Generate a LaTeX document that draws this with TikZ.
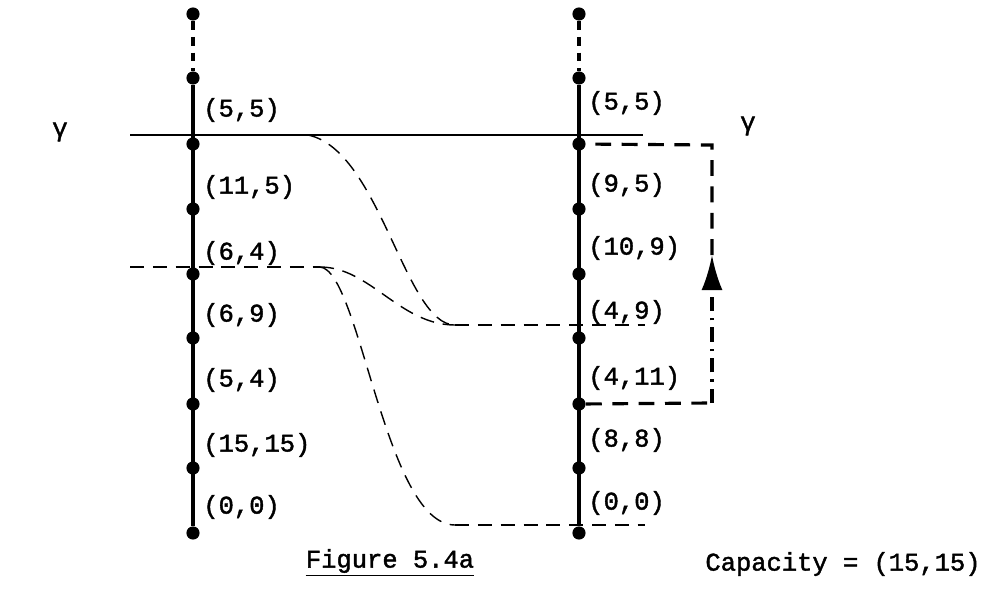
\documentclass[tikz,border=0pt]{standalone}
\usepackage{fontspec}
\setmonofont{Liberation Mono}[AutoFakeBold=1.6]
\usetikzlibrary{arrows.meta, positioning, calc}

\begin{document}
\begin{tikzpicture}[
    x=0.02cm, y=-0.02cm,
    >=Latex,
    % Styles for the two columns and the shifts between them
    vdot/.style={circle, fill=black, inner sep=0pt, minimum size=7.5pt},
    column/.style={draw=black, line width=1.8pt},
    cutline/.style={draw=black, line width=1pt},
    shiftline/.style={draw=black, line width=0.8pt, dash pattern=on 8pt off 5pt},
    route/.style={draw=black, line width=1.8pt, dash pattern=on 9pt off 6pt},
    lbl/.style={font=\ttfamily\bfseries\fontsize{14.5}{17}\selectfont, anchor=west, inner sep=0pt}
]
    \useasboundingbox (0,0) rectangle (992,589);

    % 1. The two columns of dots
    \foreach \y [count=\i from 0] in {14,78,144,209,274,338,404,468,533} {
        \node[vdot] (L\i) at (193,\y) {};
        \node[vdot] (R\i) at (579,\y) {};
    }
    \draw[column, dash pattern=on 5pt off 4pt] (L0) -- (L1);
    \draw[column, dash pattern=on 5pt off 4pt] (R0) -- (R1);
    \draw[column] (L1) -- (L8);
    \draw[column] (R1) -- (R8);

    % 2. Labels beside the columns
    \foreach \y/\t [count=\i] in {110/{(5,5)},187/{(11,5)},253/{(6,4)},315/{(6,9)},380/{(5,4)},445/{(15,15)},507/{(0,0)}} {
        \node[lbl] (la\i) at (203,\y) {\t};
    }
    \foreach \y/\t [count=\i] in {103/{(5,5)},185/{(9,5)},248/{(10,9)},312/{(4,9)},378/{(4,11)},440/{(8,8)},503/{(0,0)}} {
        \node[lbl] (ra\i) at (588,\y) {\t};
    }
    \node[lbl, anchor=center] (gl) at (60,132) {γ};
    \node[lbl, anchor=center] (gr) at (748,126) {γ};

    % 3. The cut lines
    \coordinate (cutL) at (130,135);
    \coordinate (cutR) at (643,135);
    \draw[cutline] (cutL) -- (cutR);
    \coordinate (dashL) at (130,267);
    \coordinate (split) at (320,267);
    \draw[shiftline] (dashL) -- (split);

    % 4. The shifted cuts (S-curves)
    \coordinate (bendA) at (308,135);
    \coordinate (midE) at (455,325);
    \coordinate (midR) at (645,325);
    \coordinate (lowE) at (455,525);
    \coordinate (lowR) at (645,525);
    \draw[shiftline] (bendA) .. controls (380,150) and (405,325) .. (midE);
    \draw[shiftline] (split) .. controls (370,267) and (400,325) .. (midE);
    \draw[shiftline] (split) .. controls (360,270) and (385,525) .. (lowE);
    \draw[shiftline] (midE) -- (midR);
    \draw[shiftline] (lowE) -- (lowR);

    % 5. The return path on the right
    \coordinate (boxB) at (712,403);
    \coordinate (boxT) at (712,145);
    \coordinate (tip) at (712,255);
    \draw[route] (R6) -- (boxB);
    \draw[route, dash pattern=on 8pt off 4pt on 1.5pt off 4pt, -{Latex[length=20pt, width=12pt]}] (boxB) -- (tip);
    \draw[route] (tip) -- (boxT) -- (R2);

    % 6. Caption
    \node[lbl, anchor=center] (cap) at (390,561) {Figure 5.4a};
    \draw[line width=0.8pt] ($(cap.south west)+(0,2)$) -- ($(cap.south east)+(0,2)$);
    \node[lbl, anchor=center] (capa) at (843,564) {Capacity = (15,15)};

\end{tikzpicture}
\end{document}
